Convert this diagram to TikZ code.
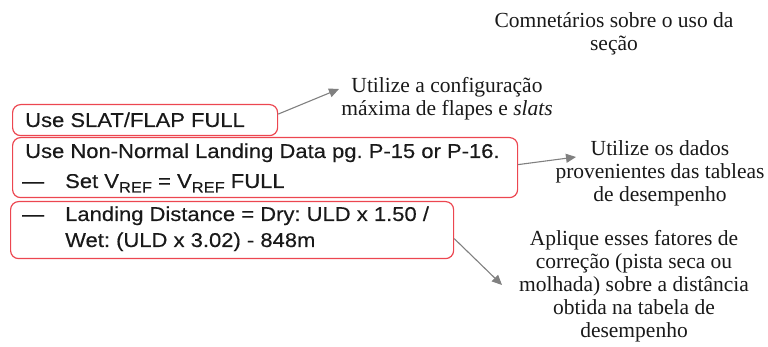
\documentclass[tikz,border=0pt]{standalone}
\usepackage{fontspec}
\setmainfont{Liberation Serif}
\newfontfamily\arialfont[FakeStretch=1.1,FakeBold=0.3]{Liberation Sans}
\usetikzlibrary{arrows.meta}
\definecolor{boxred}{RGB}{236,70,80}
\definecolor{arrgray}{RGB}{128,128,128}
\definecolor{ink}{RGB}{25,25,25}
\newcommand{\vsub}[1]{\raisebox{-4.5pt}{\fontsize{15}{16}\selectfont #1}}
\frenchspacing
\begin{document}
\begin{tikzpicture}[x=1pt,y=-1pt,
  box/.style={draw=boxred, line width=1.2pt, rounded corners=8pt, inner sep=0pt, anchor=north west},
  sanstext/.style={font=\arialfont\fontsize{20}{27}\selectfont, text=ink, anchor=base west, inner sep=0pt},
  seriftext/.style={font=\fontsize{21.5}{23}\selectfont, text=ink, align=center, inner sep=0pt, anchor=north},
  arr/.style={draw=arrgray, line width=1.1pt, -{Triangle[length=10pt,width=9pt]}}]
\useasboundingbox (0,0) rectangle (768,347);
% boxes
\node[box, minimum width=265pt, minimum height=31pt] (b1) at (12,104) {};
\node[box, minimum width=505pt, minimum height=60pt] (b2) at (12,137) {};
\node[box, minimum width=443pt, minimum height=57pt] (b3) at (10,201) {};
% box texts
\node[sanstext] (s1) at (25,127) {Use SLAT/FLAP FULL};
\node[sanstext] (s2) at (25,158) {Use Non-Normal Landing Data pg. P-15 or P-16.};
\node[sanstext] (d1) at (22,188) {—};
\node[sanstext] (s3) at (65,188) {Set V\vsub{REF} = V\vsub{REF} FULL};
\node[sanstext] (d2) at (22,221) {—};
\node[sanstext] (s4) at (65,221) {Landing Distance = Dry: ULD x 1.50 /};
\node[sanstext] (s5) at (65,247) {Wet: (ULD x 3.02) - 848m};
% comments
\node[seriftext] (t0) at (614,12) {Comnetários sobre o uso da\\seção};
\node[seriftext] (t1) at (447,77) {Utilize a configuração\\máxima de flapes e \textit{slats}};
\node[seriftext] (t2) at (660,140) {Utilize os dados\\provenientes das tableas\\de desempenho};
\node[seriftext] (t3) at (634,230) {Aplique esses fatores de\\correção (pista seca ou\\molhada) sobre a distância\\obtida na tabela de\\desempenho};
% arrows
\coordinate (e1) at (339,89);
\coordinate (e2) at (576,157);
\coordinate (e3) at (502,285);
\draw[arr] ([yshift=6pt]b1.east) -- (e1);
\draw[arr] ([yshift=3pt]b2.east) -- (e2);
\draw[arr] ([yshift=-8.5pt]b3.east) -- (e3);
\end{tikzpicture}
\end{document}
